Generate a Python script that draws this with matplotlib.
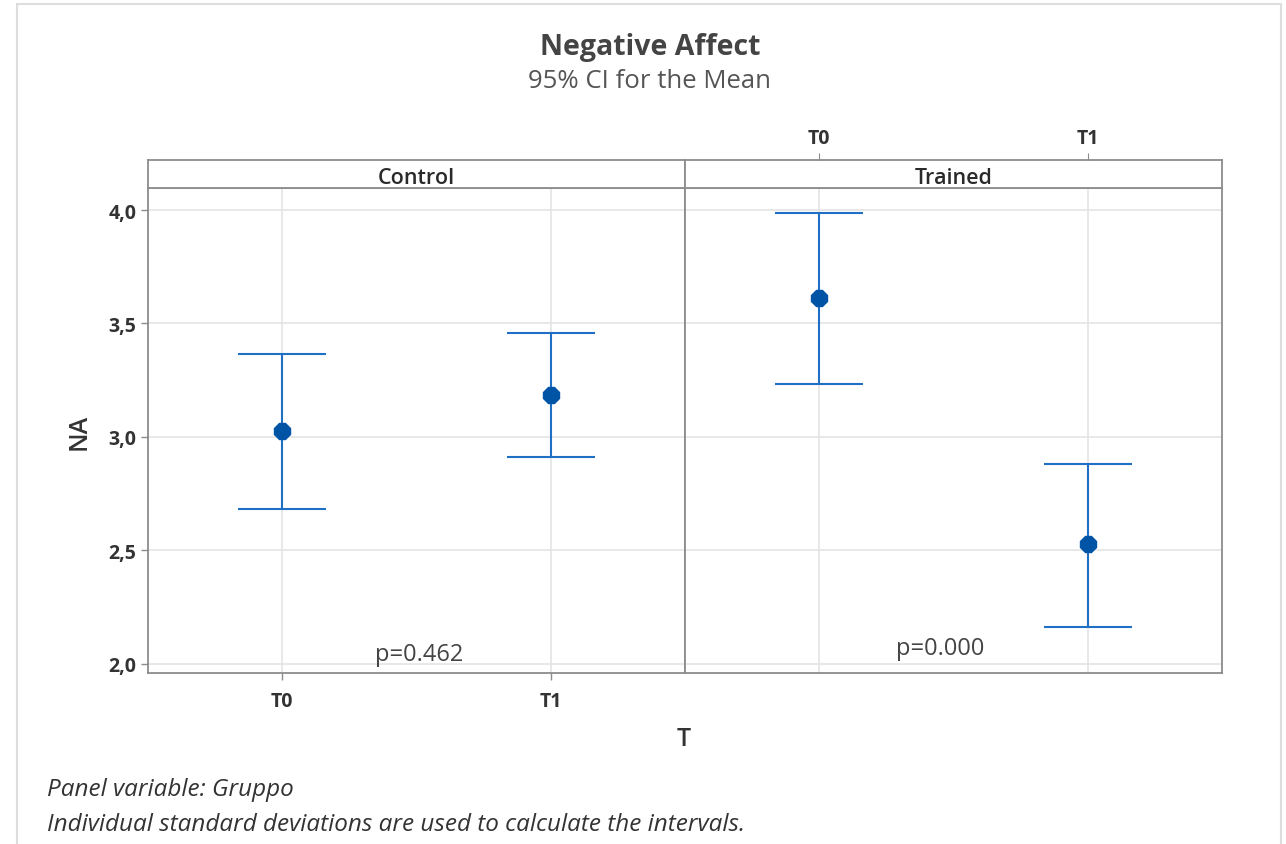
import matplotlib.pyplot as plt
from matplotlib.patches import Rectangle
from matplotlib.ticker import FuncFormatter

plt.rcParams['font.family'] = ['Open Sans', 'DejaVu Sans']

groups = ["Control", "Trained"]
times = ["T0", "T1"]
means = {"Control": [3.026, 3.185], "Trained": [3.612, 2.529]}
lower = {"Control": [2.683, 2.912], "Trained": [3.233, 2.163]}
upper = {"Control": [3.366, 3.458], "Trained": [3.987, 2.881]}
p_values = {"Control": "p=0.462", "Trained": "p=0.000"}
p_pos = {"Control": (0.51, 2.045), "Trained": (0.45, 2.07)}

W, H = 1286, 845
fig = plt.figure(figsize=(W / 100, H / 100), dpi=100)

# light frame around the whole graph
fig.add_artist(Rectangle((17 / W, -0.01), (1281 - 17) / W, 1.01 - 5 / H,
                         transform=fig.transFigure, fill=False,
                         edgecolor="#dddddd", linewidth=1.5))

edge = "#8c8c8c"
line_col = "#1f6fc5"
dot_col = "#0054a6"
txt = "#333333"
x = [0, 1]

left0, bottom, pw, ph = 148 / W, (845 - 674) / H, 537 / W, (674 - 189) / H
strip_h = 28 / H

for i, g in enumerate(groups):
    ax = fig.add_axes([left0 + i * pw, bottom, pw, ph])
    err = [[m - l for m, l in zip(means[g], lower[g])],
           [u - m for m, u in zip(means[g], upper[g])]]
    ax.errorbar(x, means[g], yerr=err, fmt="none", ecolor=line_col,
                elinewidth=1.5, capsize=31.5, capthick=1.5, zorder=3)
    ax.plot(x, means[g], linestyle="none", marker="8", markersize=13,
            color=dot_col, zorder=4)
    ax.set_xlim(-0.5, 1.5)
    ax.set_ylim(1.96, 4.097)
    ax.set_yticks([2.0, 2.5, 3.0, 3.5, 4.0])
    ax.yaxis.set_major_formatter(FuncFormatter(lambda v, pos: f"{v:.1f}".replace(".", ",")))
    ax.grid(True, color="#e4e4e4", linewidth=1.2, zorder=0)
    ax.set_axisbelow(True)
    for s in ax.spines.values():
        s.set_color(edge)
        s.set_linewidth(1.3)
    ax.tick_params(labelcolor=txt, labelsize=14, length=5, width=1,
                   direction="out", color=edge)
    ax.tick_params(axis="x", pad=8)
    ax.set_xticks(x)
    if i == 0:
        ax.set_xticklabels(times, fontweight="bold")
        for lab in ax.get_yticklabels():
            lab.set_fontweight("bold")
        ax.set_ylabel("NA", fontsize=18, color=txt, labelpad=12,
                      fontweight="semibold")
    else:
        ax.tick_params(axis="x", bottom=False, labelbottom=False)
        ax.tick_params(axis="y", left=False, labelleft=False)
    ax.text(p_pos[g][0], p_pos[g][1], p_values[g], ha="center", va="center",
            fontsize=17, color="#444444")

    # panel strip
    st = fig.add_axes([left0 + i * pw, bottom + ph, pw, strip_h])
    st.set_xlim(-0.5, 1.5)
    st.set_yticks([])
    for s in st.spines.values():
        s.set_color(edge)
        s.set_linewidth(1.3)
    st.text(0.5, 0.36, g, transform=st.transAxes, ha="center", va="center",
            fontsize=15.5, color="#2a2a2a", fontweight="semibold")
    if i == 1:
        st.set_xticks(x)
        st.set_xticklabels(times, fontweight="bold")
        st.tick_params(axis="x", top=True, labeltop=True, bottom=False,
                       labelbottom=False, length=5, color=edge,
                       labelcolor=txt, labelsize=14)
    else:
        st.set_xticks([])

fig.text(650 / W, 1 - 47 / H, "Negative Affect", ha="center", va="center",
         fontsize=20.5, fontweight="bold", color="#444444")
fig.text(650 / W, 1 - 82 / H, "95% CI for the Mean", ha="center", va="center",
         fontsize=18.5, color="#555555")
fig.text(684 / W, 1 - 740 / H, "T", ha="center", va="center",
         fontsize=18, color=txt, fontweight="semibold")
fig.text(47 / W, 1 - 790 / H, "Panel variable: Gruppo", ha="left", va="center",
         fontsize=17.5, style="italic", color=txt)
fig.text(47 / W, 1 - 825 / H, "Individual standard deviations are used to calculate the intervals.",
         ha="left", va="center", fontsize=17.5, style="italic", color=txt)

fig.savefig("out.png", dpi=100, facecolor="white")
